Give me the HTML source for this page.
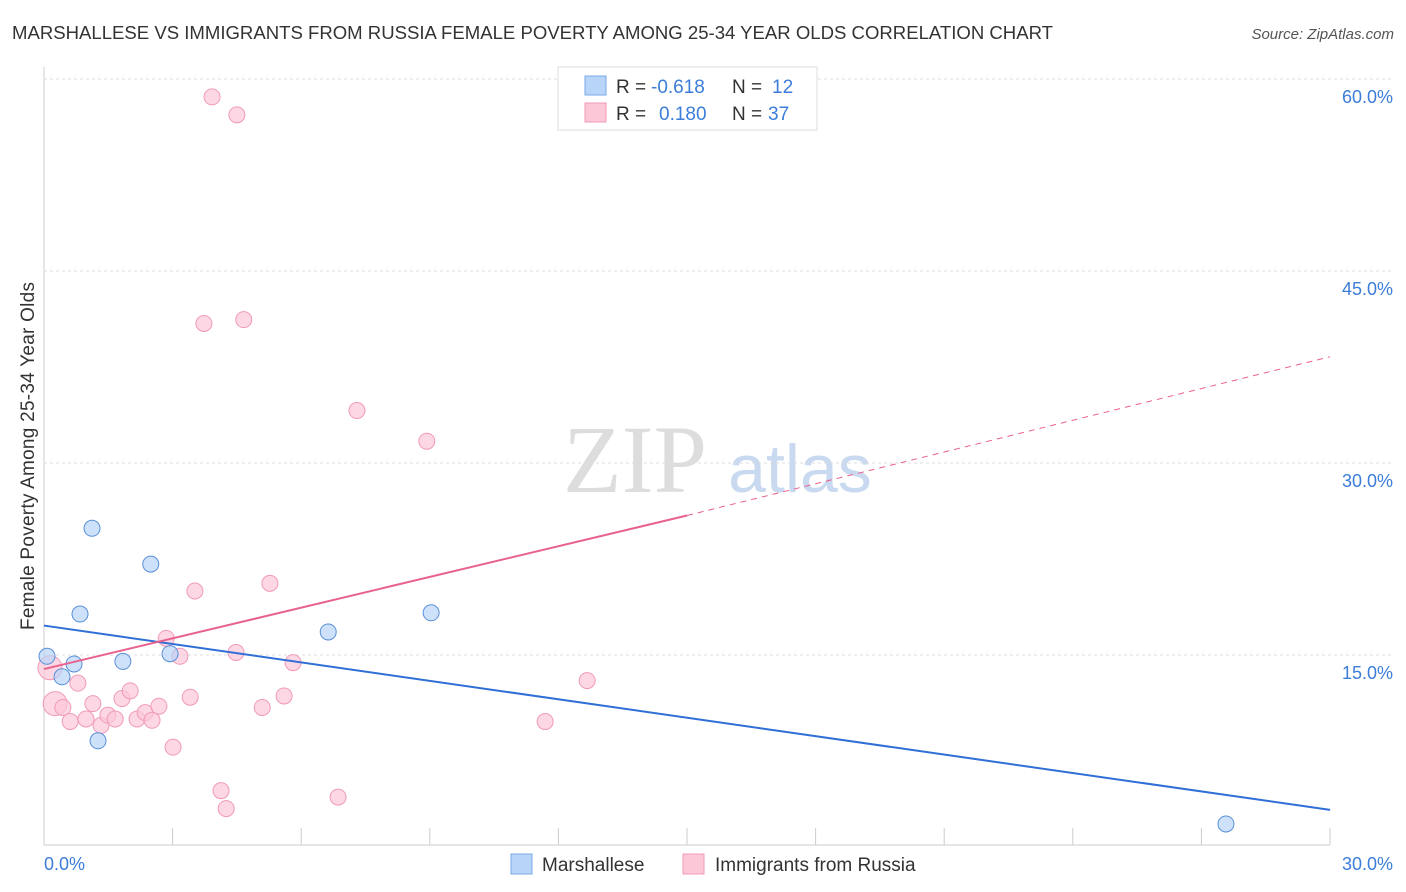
<!DOCTYPE html>
<html><head><meta charset="utf-8"><style>
body{margin:0;background:#fff;font-family:"Liberation Sans",sans-serif;}
#wrap{position:relative;width:1406px;height:892px;overflow:hidden;}
</style></head><body>
<div id="wrap">
<svg id="svg" width="1406" height="892" xmlns="http://www.w3.org/2000/svg">
<text x="12" y="39" font-size="18" fill="#333" textLength="1041" lengthAdjust="spacingAndGlyphs">MARSHALLESE VS IMMIGRANTS FROM RUSSIA FEMALE POVERTY AMONG 25-34 YEAR OLDS CORRELATION CHART</text>
<text x="1394" y="39" font-size="15" fill="#555" text-anchor="end" font-style="italic">Source: ZipAtlas.com</text>
<text x="635" y="492" font-size="96" fill="#ddd" font-family="Liberation Serif,serif" text-anchor="middle">ZIP</text>
<text x="800" y="492" font-size="68" fill="#c9daf0" text-anchor="middle">atlas</text>
<text transform="translate(34,456) rotate(-90)" font-size="19" fill="#333" text-anchor="middle" textLength="348">Female Poverty Among 25-34 Year Olds</text>
<g id="grid"></g><g id="marks"></g>
<g>
<rect x="558" y="67" width="259" height="63" fill="#fff" stroke="#ddd"/>
<rect x="585" y="76" width="21" height="19" fill="#b8d4f8" stroke="#7aa8e8"/>
<rect x="585" y="103" width="21" height="19" fill="#fcc8d8" stroke="#f09ab6"/>
<text x="616" y="93" font-size="19" fill="#333">R =</text>
<text x="651" y="93" font-size="19" fill="#3b7dd8">-0.618</text>
<text x="732" y="93" font-size="19" fill="#333">N =</text>
<text x="772" y="93" font-size="19" fill="#3b7dd8">12</text>
<text x="616" y="120" font-size="19" fill="#333">R =</text>
<text x="659" y="120" font-size="19" fill="#3b7dd8">0.180</text>
<text x="732" y="120" font-size="19" fill="#333">N =</text>
<text x="768" y="120" font-size="19" fill="#3b7dd8">37</text>
</g>
<g>
<rect x="511" y="854" width="21" height="20" fill="#b8d4f8" stroke="#7aa8e8"/>
<text x="542" y="871" font-size="19" fill="#333">Marshallese</text>
<rect x="683" y="854" width="21" height="20" fill="#fcc8d8" stroke="#f09ab6"/>
<text x="715" y="871" font-size="19" fill="#333">Immigrants from Russia</text>
</g>
</svg></div>
<script>
const yTicks=[15,30,45,60];
const xTickLabels=["0.0%","30.0%"];
const blueX=[0.07,0.42,0.7,0.84,1.12,1.26,1.84,2.49,2.94,6.63,9.03,27.57];
const blueY=[14.9,13.3,14.3,18.2,24.9,8.3,14.5,22.1,15.1,16.8,18.3,1.8];
const pinkX=[3.92,4.5,3.73,4.66,7.3,8.93,3.52,5.27,2.85,3.17,4.48,5.81,12.67,11.69,0.14,0.26,0.44,0.61,0.79,0.98,1.14,1.33,1.49,1.66,1.82,2.01,2.17,2.36,2.52,2.68,3.41,5.09,5.6,3.01,4.13,4.25,6.86];
const pinkY=[58.6,57.2,40.9,41.2,34.1,31.7,20.0,20.6,16.3,14.9,15.2,14.4,13.0,9.8,14.0,11.2,10.9,9.8,12.8,10.0,11.2,9.5,10.3,10.0,11.6,12.2,10.0,10.5,9.9,11.0,11.7,10.9,11.8,7.8,4.4,3.0,3.9];
const blueLine=[17.3,2.9];
const pinkLine=[13.9,25.9,38.3];
const X=v=>44+v*42.87, Y=v=>847-v*12.8;
const ns="http://www.w3.org/2000/svg";
function mk(p,t,a){const e=document.createElementNS(ns,t);for(const k in a)e.setAttribute(k,a[k]);p.appendChild(e);return e;}
const g=document.getElementById('grid'),m=document.getElementById('marks');
mk(g,'line',{x1:44,y1:67,x2:44,y2:845,stroke:'#ccc'});
mk(g,'line',{x1:44,y1:845,x2:1330,y2:845,stroke:'#ccc'});
for(let i=1;i<=10;i++){const t=mk(g,'line',{x1:44+i*128.6,y1:828,x2:44+i*128.6,y2:845,stroke:'#ccc'});

}
yTicks.forEach(v=>{const l=mk(g,'line',{x1:44,x2:1394,y1:Y(v),y2:Y(v),stroke:'#ddd','stroke-dasharray':'3,3'});


const t=mk(g,'text',{x:1393,y:Y(v)+24,'font-size':18,fill:'#3b7dd8','text-anchor':'end'});t.textContent=v.toFixed(1)+'%';

});
[[44,'start',0],[1393,'end',1]].forEach(([x,a,i])=>{const t=mk(g,'text',{x:x,y:870,'font-size':18,fill:'#3b7dd8','text-anchor':a});t.textContent=xTickLabels[i];

});
pinkX.forEach((x,i)=>{const c=mk(m,'circle',{cx:X(x),cy:Y(pinkY[i]),r:(i==14||i==15)?12:8,fill:'#fcc8d8','fill-opacity':0.7,stroke:'#f09ab6'});

});
blueX.forEach((x,i)=>{const c=mk(m,'circle',{cx:X(x),cy:Y(blueY[i]),r:8,fill:'#b8d4f8','fill-opacity':0.7,stroke:'#5a8fd8'});

});
const bl=mk(m,'line',{x1:X(0),y1:Y(blueLine[0]),x2:X(30),y2:Y(blueLine[1]),stroke:'#2f6fd6','stroke-width':2});


const pl=mk(m,'line',{x1:X(0),y1:Y(pinkLine[0]),x2:X(15),y2:Y(pinkLine[1]),stroke:'#e8628e','stroke-width':2});


const pd=mk(m,'line',{x1:X(15),y1:Y(pinkLine[1]),x2:X(30),y2:Y(pinkLine[2]),stroke:'#e8628e','stroke-width':1,'stroke-dasharray':'6,5'});


</script></body></html>
